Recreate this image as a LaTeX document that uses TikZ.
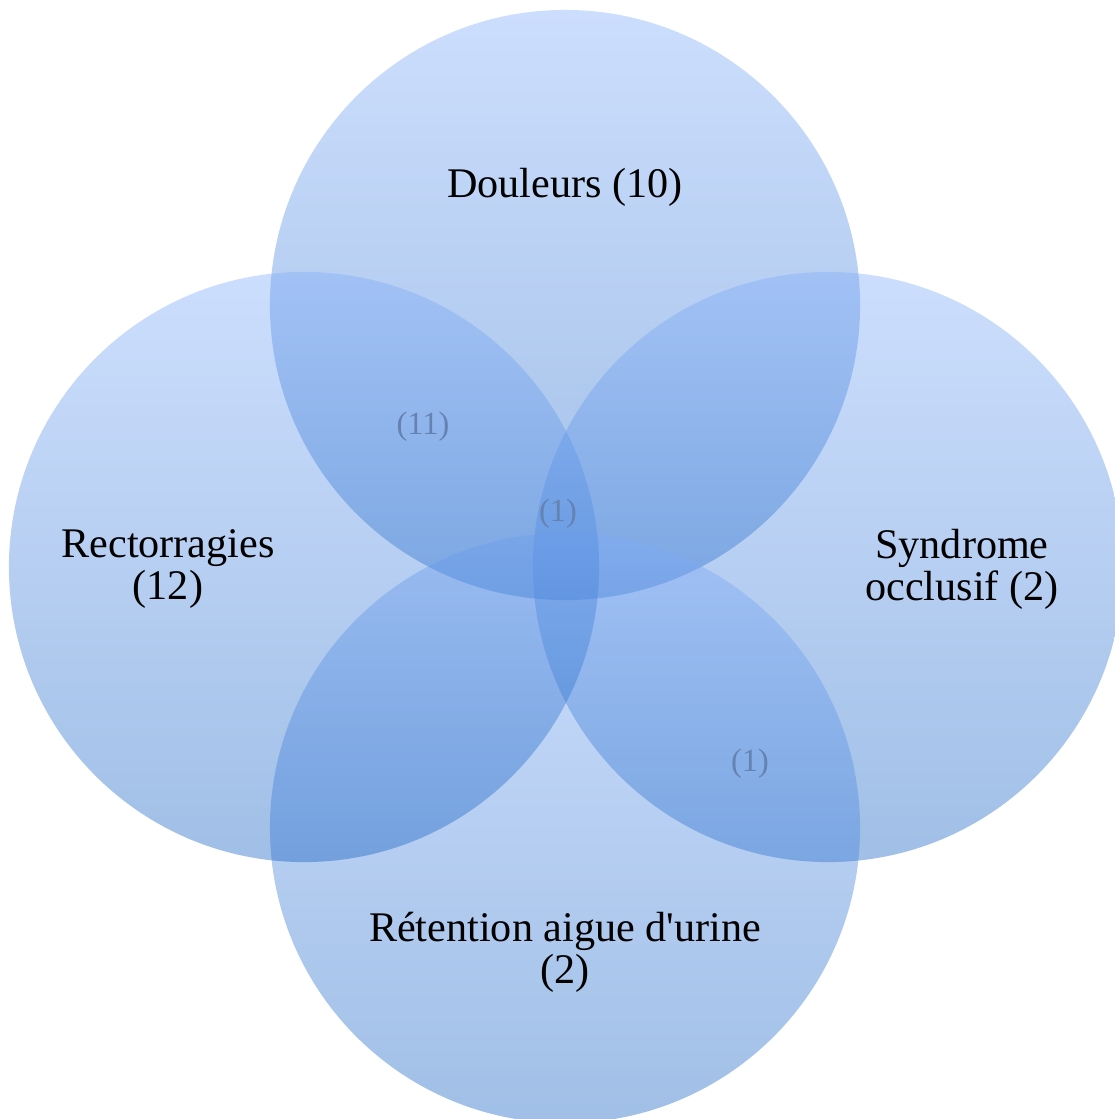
\documentclass[tikz,border=0pt]{standalone}
\usepackage{fontspec}
\setmainfont{Liberation Serif}[Ligatures=TeXOff]
\definecolor{venntop}{RGB}{128,172,250}
\definecolor{vennbot}{RGB}{18,95,193}
\definecolor{countcol}{RGB}{100,130,178}
\tikzset{
  venn/.style={circle, minimum size=14.75cm, inner sep=0pt,
    top color=venntop, bottom color=vennbot, opacity=0.4},
  biglabel/.style={align=center, font=\fontsize{30}{30}\selectfont},
  count/.style={text=countcol, font=\fontsize{23}{23}\selectfont}
}
\begin{document}
\begin{tikzpicture}[x=0.025cm, y=-0.025cm]
\useasboundingbox (0,0) rectangle (1115,1119);
\node[venn] (top) at (565,305) {};
\node[venn] (right) at (828,567) {};
\node[venn] (bottom) at (565,828) {};
\node[venn] (left) at (304,567) {};

\node[biglabel] (douleurs) at (565,187) {Douleurs (10)};
\node[biglabel] (syndrome) at (962,569) {Syndrome\\occlusif (2)};
\node[biglabel] (retention) at (565,952) {Rétention aigue d'urine\\(2)};
\node[biglabel] (rectorragies) at (168,569) {Rectorragies\\(12)};

\node[count] (n11) at (423,427) {(11)};
\node[count] (n1a) at (558,514) {(1)};
\node[count] (n1b) at (750,764) {(1)};
\end{tikzpicture}
\end{document}
